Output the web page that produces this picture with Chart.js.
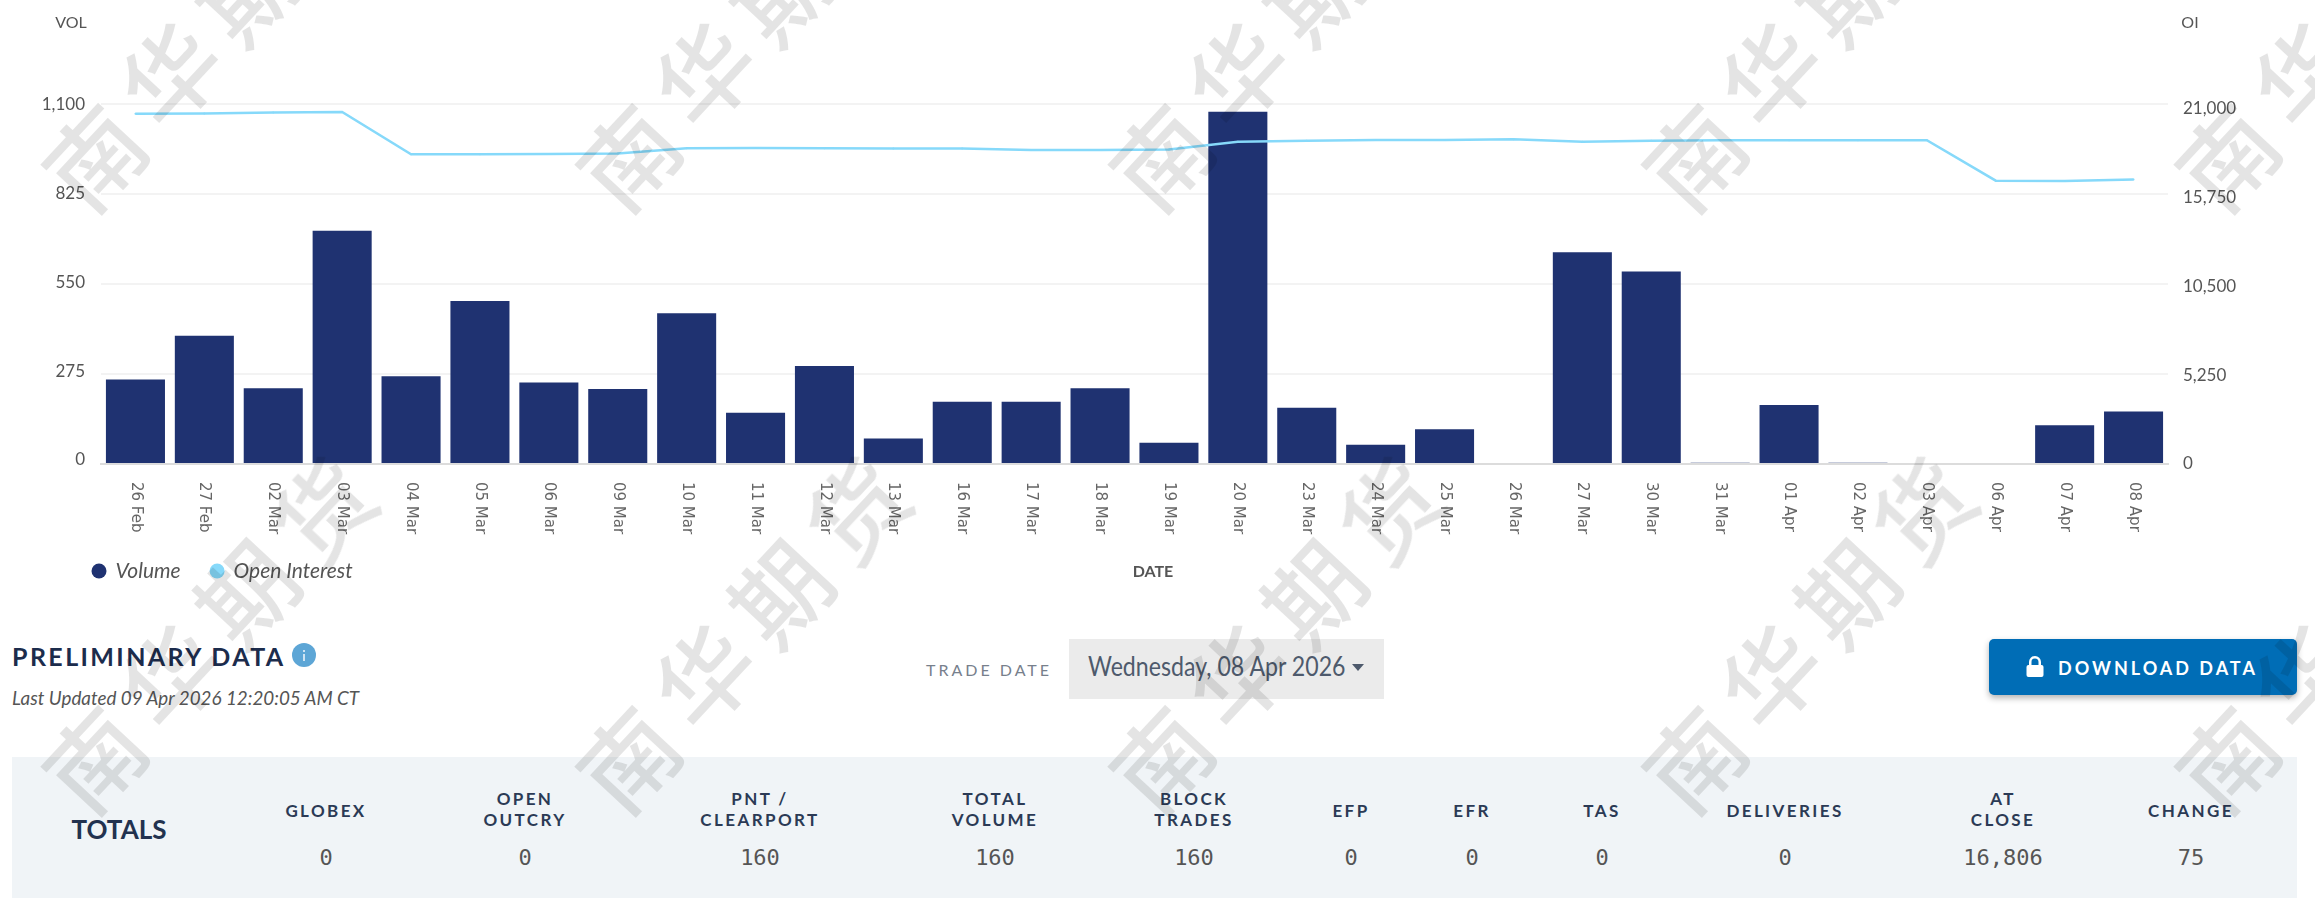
<!DOCTYPE html>
<html><head><meta charset="utf-8">
<script src="https://cdn.jsdelivr.net/npm/chart.js@4"></script>
<style>
html,body{margin:0;padding:0;background:#fff;width:2315px;height:898px;overflow:hidden}
#wrap{position:relative;width:2315px;height:898px;font-family:Lato,sans-serif;color:#22324f}
#chartBox{position:absolute;left:0;top:0;width:2315px;height:600px}
.t{position:absolute;white-space:nowrap;transform:translate(-50%,-50%)}
.l{position:absolute;white-space:nowrap;transform-origin:0 50%}
.axt{font:16px "Liberation Sans Narrow",Lato,sans-serif;color:#555}
#panel{position:absolute;left:12px;top:757px;width:2285px;height:141px;background:#f0f4f7}
#dd{position:absolute;left:1069px;top:639px;width:315px;height:60px;background:#ebebeb}
#btn{position:absolute;left:1989px;top:639px;width:308px;height:56px;background:#006db6;border-radius:5px;box-shadow:0 3px 6px rgba(0,0,0,.3)}
.hd{font-weight:700;font-size:17px;letter-spacing:2.4px;color:#2b3a55;text-align:center;line-height:21px}
.val{font:22px "DejaVu Sans Mono",monospace;color:#555}
.wm{position:absolute;font:500 96px "Noto Sans CJK SC",sans-serif;color:rgba(0,0,0,.105);transform:translate(-50%,-50%) rotate(-47deg);pointer-events:none;line-height:1}
</style></head><body>
<div id="wrap">
<div id="chartBox"><canvas id="c" width="2315" height="600"></canvas></div>
<div class="t axt" style="left:71px;top:21px">VOL</div>
<div class="t axt" style="left:2190px;top:21px">OI</div>
<div class="t axt" style="left:1153px;top:570px;font-weight:700">DATE</div>

<div class="l" style="left:12px;top:656px;font-weight:700;font-size:25px;letter-spacing:2.4px;color:#1c2c4c;transform:translateY(-50%)">PRELIMINARY DATA</div>
<svg style="position:absolute;left:292px;top:643px" width="24" height="24"><circle cx="12" cy="12" r="12" fill="#5da6d6"/><rect x="11" y="11" width="2" height="7" fill="#cfe4f3"/><rect x="11" y="7" width="2" height="2" fill="#cfe4f3"/></svg>
<div class="l" style="left:12px;top:697px;font-style:italic;font-size:19px;color:#555;transform:translateY(-50%) scaleX(.99)">Last Updated 09 Apr 2026 12:20:05 AM CT</div>
<div class="l" style="left:926px;top:669px;font-size:16px;letter-spacing:3px;color:#77808c;transform:translateY(-50%)">TRADE DATE</div>
<div id="dd"></div>
<div class="l" style="left:1088px;top:666px;font-size:26px;color:#4e5a6c;transform:translateY(-50%) scaleX(.89)">Wednesday, 08 Apr 2026</div>
<svg style="position:absolute;left:1352px;top:664px" width="14" height="8"><path d="M0 0H12L6 7Z" fill="#4e5a6c"/></svg>
<div id="btn"></div>
<svg style="position:absolute;left:2026px;top:656px" width="18" height="21"><path d="M3 9V6a6 6 0 0 1 12 0V9H12.5V6a3.5 3.5 0 0 0-7 0V9Z" fill="#fff"/><rect x="0.5" y="9" width="17" height="12" rx="2" fill="#fff"/></svg>
<div class="l" style="left:2058px;top:668px;font-weight:700;font-size:18px;letter-spacing:3px;color:#fff;transform:translateY(-50%)">DOWNLOAD DATA</div>
<div id="panel"></div>
<div class="t" style="left:119px;top:829px;font-weight:700;font-size:26px;color:#22324f">TOTALS</div>
<div id="cols"></div>
<div id="marks"></div>
</div>
<script>
const categories=["26 Feb","27 Feb","02 Mar","03 Mar","04 Mar","05 Mar","06 Mar","09 Mar","10 Mar","11 Mar","12 Mar","13 Mar","16 Mar","17 Mar","18 Mar","19 Mar","20 Mar","23 Mar","24 Mar","25 Mar","26 Mar","27 Mar","30 Mar","31 Mar","01 Apr","02 Apr","03 Apr","06 Apr","07 Apr","08 Apr"];
const volume=[258,391,231,712,268,497,249,229,460,156,299,78,190,190,231,65,1075,172,59,106,0,646,587,4,180,4,0,0,118,160];
const openInterest=[20693,20700,20760,20793,18294,18294,18310,18340,18650,18670,18650,18640,18640,18550,18550,18580,19040,19100,19140,19140,19180,19040,19100,19120,19120,19120,19130,16735,16717,16806];
const volLabelTicks=[0,275,550,825,1100];
const oiTicks=[0,5250,10500,15750,21000];
const tableColumns=["GLOBEX","OPEN\nOUTCRY","PNT /\nCLEARPORT","TOTAL\nVOLUME","BLOCK\nTRADES","EFP","EFR","TAS","DELIVERIES","AT\nCLOSE","CHANGE"];
const tableValues=["0","0","160","160","160","0","0","0","0","16,806","75"];
const tableCenters=[326,525,760,995,1194,1351,1472,1602,1785,2003,2191];
const wmChars=["南","华","期","货"];
const wmCols=[92,625.5,1158.5,1692,2225];
const wmRows=[155,757];

tableColumns.forEach((h,i)=>{
  const c=document.getElementById('cols');
  const d=document.createElement('div');d.className='t hd';d.style.left=tableCenters[i]+'px';d.style.top=(h.includes('\n')?809:810)+'px';
  d.innerHTML=h.replace('\n','<br>');c.appendChild(d);
  const v=document.createElement('div');v.className='t val';v.style.left=tableCenters[i]+'px';v.style.top='857px';v.textContent=tableValues[i];c.appendChild(v);
});
const mk=document.getElementById('marks');
wmRows.forEach(y=>wmCols.forEach(x=>wmChars.forEach((ch,i)=>{
  const s=document.createElement('span');s.className='wm';s.textContent=ch;
  s.style.left=(x+i*76)+'px';s.style.top=(y-i*83)+'px';mk.appendChild(s);
})));

const fmt=v=>Number(v).toLocaleString('en-US');
const tickFont={family:'"Liberation Sans Narrow",Lato,sans-serif',size:17};
const placeLegend={id:'placeLegend',afterLayout(chart){
  const l=chart.legend;l.left=62.5;l.right=700;l.top=530;l.bottom=600;l.width=637.5;l.height=70;
}};
new Chart(document.getElementById('c'),{
  data:{labels:categories,datasets:[
    {type:'bar',label:'Volume',data:volume,yAxisID:'y',backgroundColor:'#1f3271',barPercentage:0.857,categoryPercentage:1,order:2},
    {type:'line',label:'Open Interest',data:openInterest,yAxisID:'y1',borderColor:'#86d9fa',backgroundColor:'#38c0f8',borderWidth:2.5,pointRadius:1,pointBackgroundColor:'#86d9fa',pointBorderWidth:0,tension:0,order:1}
  ]},
  plugins:[placeLegend],
  options:{responsive:false,animation:false,
    layout:{autoPadding:false,padding:{top:103.5,left:0,right:0,bottom:0}},
    plugins:{tooltip:{enabled:false},
      legend:{position:'bottom',align:'start',labels:{usePointStyle:true,pointStyle:'circle',boxWidth:12,boxHeight:10.6,padding:30.5,color:'#555',font:{family:'Lato,sans-serif',size:21,style:'italic'},
        sort:(a,b)=>a.datasetIndex-b.datasetIndex,
        generateLabels:c=>Chart.defaults.plugins.legend.labels.generateLabels(c).map(l=>({...l,lineWidth:0}))}}},
    scales:{
      x:{position:'bottom',offset:true,
        grid:{display:false},border:{color:'#dcdcdc',width:2},
        afterDataLimits(s){s._getXAxisLabelAlignment=()=>'left';},
        afterFit(s){s.height=136-s.chart.legend.height;},
        ticks:{autoSkip:false,minRotation:-90,maxRotation:-90,padding:10,color:'#666',font:{family:'"DejaVu Sans",sans-serif',size:15}}},
      y:{position:'left',min:0,max:1100,
        afterFit(s){s.width=0;},
        grid:{color:'#f3f3f3',lineWidth:2,drawTicks:false},border:{display:false},
        ticks:{display:false,stepSize:275}},
      yL:{position:'left',min:-12.4,max:1104.6,
        afterFit(s){s.width=101;},
        afterBuildTicks(s){s.ticks=volLabelTicks.map(v=>({value:v}));},
        grid:{display:false,drawTicks:false},border:{display:false},
        ticks:{padding:16,color:'#555',font:tickFont,callback:fmt}},
      y1:{position:'right',min:0,max:21295,
        afterFit(s){s.width=147;},
        afterBuildTicks(s){s.ticks=oiTicks.map(v=>({value:v}));},
        grid:{display:false,drawTicks:false},border:{display:false},
        ticks:{padding:15,color:'#555',font:tickFont,callback:fmt}}
    }}
});
</script>
</body></html>
